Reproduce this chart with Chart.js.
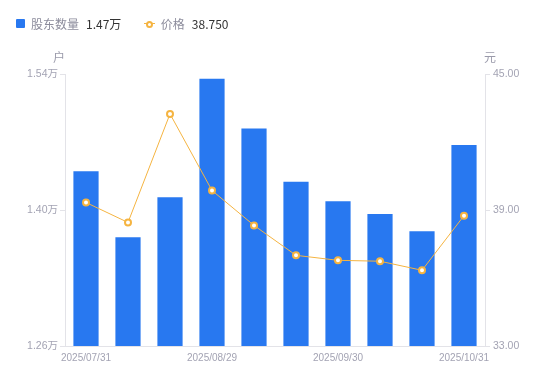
<!DOCTYPE html>
<html>
<head>
<meta charset="utf-8">
<script src="https://cdn.jsdelivr.net/npm/chart.js@4.4.1/dist/chart.umd.min.js"></script>
<style>
  html, body { margin:0; padding:0; background:#fff; }
  body { width:550px; height:381px; position:relative; overflow:hidden; font-family:"Noto Sans CJK SC","Noto Sans",sans-serif; }
  #wrap { position:absolute; left:0; top:0; width:550px; height:381px; }
  .legend { position:absolute; top:15px; left:16px; font-size:12px; display:flex; align-items:center; white-space:nowrap; }
  .lg-item { display:flex; align-items:center; margin-right:22.5px; }
  .sq { width:9px; height:9px; background:#2878f0; border-radius:1px; margin-right:6px; }
  .ln { position:relative; width:11px; height:9px; margin-right:6px; }
  .ln::before { content:""; position:absolute; left:0; right:0; top:4px; height:1px; background:#f5b441; }
  .ln::after { content:""; position:absolute; left:2.5px; top:1.5px; width:3px; height:3px; border:2px solid #f5b441; border-radius:50%; background:#fff; }
  .lbl { color:#8c8c9c; margin-right:7px; }
  .val { color:#333; }
  .unit { position:absolute; top:48px; font-size:12px; color:#9a9aaa; }
</style>
</head>
<body>
<div id="wrap"><canvas id="c" width="550" height="381"></canvas></div>
<div class="legend">
  <div class="lg-item"><span class="sq"></span><span class="lbl">股东数量</span><span class="val">1.47万</span></div>
  <div class="lg-item"><span class="ln"></span><span class="lbl">价格</span><span class="val">38.750</span></div>
</div>
<div class="unit" style="left:53px;">户</div>
<div class="unit" style="left:484px;">元</div>
<script>
const categories = ["2025/07/31","2025/08/08","2025/08/20","2025/08/29","2025/09/10","2025/09/19","2025/09/30","2025/10/13","2025/10/22","2025/10/31"];
const holders = [1.44, 1.372, 1.413, 1.535, 1.484, 1.429, 1.409, 1.396, 1.378, 1.467];
const prices = [39.33, 38.45, 43.24, 39.86, 38.32, 37.00, 36.78, 36.74, 36.34, 38.75];
const shownLabels = [0, 3, 6, 9];
const leftTicks = [1.26, 1.40, 1.54];
const rightTicks = [33, 39, 45];

const tickColor = '#a3a3b3';
const axisColor = '#e3e3e8';
const tickFont = { size: 10.5, family: 'Liberation Sans, "Noto Sans CJK SC", sans-serif' };

new Chart(document.getElementById('c'), {
  data: {
    labels: categories,
    datasets: [
      {
        type: 'line', label: '价格', data: prices, yAxisID: 'y1', order: 0,
        borderColor: '#f5b441', borderWidth: 1, tension: 0,
        pointRadius: 3, pointBorderWidth: 2, pointBackgroundColor: '#fff', pointBorderColor: '#f5b441',
        pointHoverRadius: 3
      },
      {
        type: 'bar', label: '股东数量', data: holders, yAxisID: 'y', order: 1,
        backgroundColor: '#2878f0', categoryPercentage: 0.6, barPercentage: 1.0
      }
    ]
  },
  options: {
    responsive: false, animation: false,
    layout: { padding: { top: 74, right: 0, left: 0, bottom: 0 } },
    plugins: { legend: { display: false }, tooltip: { enabled: false } },
    scales: {
      x: {
        grid: { display: false, drawTicks: false },
        border: { display: true, color: axisColor },
        ticks: {
          autoSkip: false, maxRotation: 0, padding: 6,
          color: tickColor, font: { size: 10, family: 'Liberation Sans, sans-serif' },
          callback: (v, i) => shownLabels.includes(i) ? categories[i] : ''
        },
        afterFit: s => { s.height = 35; }
      },
      y: {
        position: 'left', min: 1.26, max: 1.54,
        afterBuildTicks: s => { s.ticks = leftTicks.map(v => ({ value: v })); },
        afterFit: s => { s.width = 65; },
        grid: { drawOnChartArea: false, drawTicks: true, tickLength: 5, color: axisColor },
        border: { display: true, color: axisColor },
        ticks: {
          color: tickColor, padding: 2, font: tickFont,
          callback: v => v.toFixed(2) + '万'
        }
      },
      y1: {
        position: 'right', min: 33, max: 45,
        afterBuildTicks: s => { s.ticks = rightTicks.map(v => ({ value: v })); },
        afterFit: s => { s.width = 65; },
        grid: { drawOnChartArea: false, drawTicks: true, tickLength: 5, color: axisColor },
        border: { display: true, color: axisColor },
        ticks: {
          color: tickColor, padding: 3, font: tickFont,
          callback: v => v.toFixed(2)
        }
      }
    }
  }
});
</script>
</body>
</html>
